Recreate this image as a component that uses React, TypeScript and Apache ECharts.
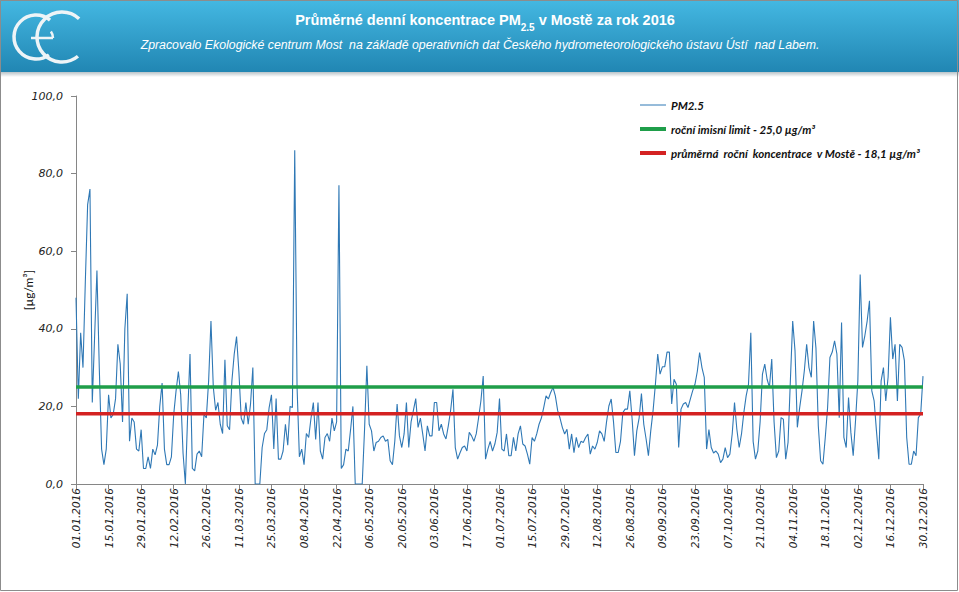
import React, { useEffect, useRef } from "react";
import * as echarts from "echarts";

// Daily PM2.5 concentrations in Most, 2016 (µg/m³), 01.01.–30.12.
const jan = [48, 22, 39, 30, 52, 72, 76, 21, 38, 55, 30, 9, 5, 9, 23, 17, 18, 22, 36, 31, 16, 40, 49, 11, 17, 16, 9, 8.5, 14, 4, 4];
const feb = [7, 4, 9, 7.5, 10, 20, 26, 9, 5, 5, 7, 18, 24, 29, 23, 8, 0, 18, 33.5, 4, 3.4, 7.7, 8.5, 7, 18, 17, 26.6, 42, 25];
const mar = [19, 21, 15.4, 13, 32, 15, 14, 26.6, 33.5, 38, 29, 17, 15.4, 21, 15.4, 20.6, 30, 0, 0, 0, 9.4, 13, 14, 19.7, 23, 9, 22, 6.4, 6.4, 8.5, 15.4];
const apr = [10, 20, 19.7, 86, 25, 7, 9, 5, 13, 12, 17, 21, 11.5, 21, 8.5, 6.4, 12, 13, 11, 17, 13.7, 16, 77, 4, 5, 9, 8.5, 14, 20, 0];
const may = [0, 0, 0, 14, 30.5, 15.4, 13.7, 8.5, 10.7, 11, 12, 12.4, 11, 11.5, 6, 5, 11, 20.6, 12.4, 9.4, 12.9, 21, 9.4, 16, 19, 22, 14.6, 17, 12.9, 8.5, 15];
const jun = [12.4, 12.4, 21, 21, 13.7, 15.4, 12.9, 11.6, 15, 19, 24.4, 9.4, 6.4, 8, 9.4, 9.8, 8.5, 13.3, 12.4, 11, 12.9, 17, 21.4, 27.8, 6.4, 9, 11, 8.5, 10.3, 13.3];
const jul = [22, 9, 8.5, 12.9, 7.3, 7.3, 12, 8.5, 12.9, 15, 10.3, 9.8, 7.7, 5.1, 12, 11, 12.9, 15.4, 17, 19.7, 22.7, 21.9, 23.6, 24.9, 22.7, 18.9, 17, 14.6, 12.9, 14.1, 9];
const aug = [12.9, 8.1, 12, 9.4, 11, 10.7, 12, 12.9, 7.7, 9.8, 9, 10.7, 13.7, 12.9, 11, 16, 20.1, 21.9, 16, 8.1, 8.1, 11, 18.4, 19.3, 19.3, 24, 16.7, 7.3, 13.7, 17, 23.3];
const sep = [15.4, 11.6, 7.3, 13.7, 18.9, 25.7, 33.5, 28.3, 30.2, 30.2, 34, 34, 20.6, 27, 25.7, 9.4, 19.3, 20.6, 21, 19.7, 21.9, 24, 25.7, 29, 33.9, 30, 27.5, 9, 14, 9.4];
const oct = [8, 8.5, 7.7, 5.5, 6.4, 9.4, 6.8, 7.7, 12.9, 21, 14.1, 9.4, 12.9, 18.4, 22.7, 25.7, 39, 11, 6.4, 8.5, 16, 28.3, 30.9, 27, 24.9, 32.2, 16, 6.8, 8.5, 17.1, 16.7];
const nov = [6.4, 10.7, 26.6, 42, 34.3, 14.6, 19.7, 24, 29.2, 36, 30, 27.5, 42, 35, 15, 6, 5.1, 12, 19.7, 32.6, 34, 36.9, 33.5, 17.1, 41.6, 12, 9.4, 22.3, 13.3, 7.3];
const dec = [16.3, 26.6, 54, 35.2, 38.2, 42, 47.2, 24, 21.4, 13.7, 6.4, 26.6, 30, 21.4, 27.5, 43, 32.2, 36, 21.4, 36, 35.2, 31.8, 12, 5.1, 5.1, 8.5, 7.3, 17.1, 18, 27.8];

const LIMIT = 25.0;
const AVERAGE = 18.1;

const SERIES_PM = "PM2.5";
const SERIES_LIMIT = "roční imisní limit - 25,0 µg/m³";
const SERIES_AVG = "průměrná  roční  koncentrace  v Mostě - 18,1 µg/m³";

const TITLE_A = "Průměrné denní koncentrace PM";
const TITLE_SUB = "2.5";
const TITLE_B = " v Mostě za rok 2016";
const SUBTITLE =
  "Zpracovalo Ekologické centrum Most  na základě operativních dat Českého hydrometeorologického ústavu Ústí  nad Labem.";

const pm25 = [...jan, ...feb, ...mar, ...apr, ...may, ...jun, ...jul, ...aug, ...sep, ...oct, ...nov, ...dec];

const START = Date.UTC(2016, 0, 1);
const pad = (n: number) => (n < 10 ? "0" + n : "" + n);
const categories = pm25.map((_, i) => {
  const d = new Date(START + i * 86400000);
  return pad(d.getUTCDate()) + "." + pad(d.getUTCMonth() + 1) + "." + d.getUTCFullYear();
});

const NARROW = "'Liberation Sans Narrow', 'Arial Narrow', 'Liberation Sans', sans-serif";
const AXISFONT = "'DejaVu Sans', Verdana, sans-serif";
const LEGFONT = "Lato, 'Open Sans', sans-serif";
const LOGO = "#eef4f7";

export default function App() {
  const ref = useRef<HTMLDivElement>(null);
  useEffect(() => {
    if (!ref.current) return;
    const chart = echarts.init(ref.current, undefined, { renderer: "svg" });
    chart.setOption({
      animation: false,
      backgroundColor: "#ffffff",
      grid: { left: 76, right: 36, top: 96, bottom: 108, containLabel: false },
      legend: {
        left: 633,
        top: 94,
        orient: "vertical",
        itemWidth: 26,
        itemHeight: 14,
        itemGap: 12,
        itemStyle: { opacity: 0 },
        textStyle: { fontFamily: LEGFONT, fontStyle: "italic", fontWeight: "bold", fontSize: 11.5, color: "#111" },
        data: [
          { name: SERIES_PM, itemStyle: { opacity: 0 }, lineStyle: { width: 1 } },
          { name: SERIES_LIMIT, itemStyle: { opacity: 0 }, lineStyle: { width: 4 } },
          { name: SERIES_AVG, itemStyle: { opacity: 0 }, lineStyle: { width: 4 } },
        ],
      },
      xAxis: {
        type: "category",
        data: categories,
        boundaryGap: false,
        axisLine: { lineStyle: { color: "#868686", width: 1 } },
        axisTick: { interval: 13, length: 5, lineStyle: { color: "#868686" } },
        axisLabel: {
          interval: 13,
          rotate: 90,
          margin: 4,
          fontFamily: AXISFONT,
          fontStyle: "italic",
          fontSize: 10.5,
          color: "#222",
        },
        splitLine: { show: false },
      },
      yAxis: {
        type: "value",
        min: 0,
        max: 100,
        interval: 20,
        name: "[µg/m³]",
        nameLocation: "middle",
        nameRotate: 90,
        nameGap: 42,
        nameMoveOverlap: false,
        nameTextStyle: { fontFamily: LEGFONT, fontSize: 12, color: "#111" },
        axisLine: { show: true, lineStyle: { color: "#868686", width: 1 } },
        axisTick: { show: true, length: 5, lineStyle: { color: "#868686" } },
        axisLabel: {
          margin: 13,
          fontFamily: AXISFONT,
          fontStyle: "italic",
          fontSize: 11,
          color: "#222",
          formatter: (v: number) => v.toFixed(1).replace(".", ","),
        },
        splitLine: { show: false },
      },
      series: [
        {
          name: SERIES_PM,
          type: "line",
          data: pm25,
          symbol: "none",
          lineStyle: { color: "#2f78b5", width: 1.1 },
          itemStyle: { color: "#2f78b5" },
          z: 2,
        },
        {
          name: SERIES_LIMIT,
          type: "line",
          data: pm25.map(() => LIMIT),
          symbol: "none",
          lineStyle: { color: "#1f9e4a", width: 3.5 },
          itemStyle: { color: "#1f9e4a" },
          z: 3,
        },
        {
          name: SERIES_AVG,
          type: "line",
          data: pm25.map(() => AVERAGE),
          symbol: "none",
          lineStyle: { color: "#d42222", width: 3.5 },
          itemStyle: { color: "#d42222" },
          z: 3,
        },
      ],
      graphic: [
        {
          type: "rect",
          shape: { x: 0, y: 0, width: 959, height: 72 },
          style: {
            fill: new echarts.graphic.LinearGradient(0, 0, 0, 1, [
              { offset: 0, color: "#44b8e2" },
              { offset: 1, color: "#2186b3" },
            ]),
          },
          z: 0,
        },
        {
          type: "rect",
          shape: { x: 0, y: 72, width: 959, height: 5 },
          style: {
            fill: new echarts.graphic.LinearGradient(0, 0, 0, 1, [
              { offset: 0, color: "#b9c3c8" },
              { offset: 1, color: "#ffffff" },
            ]),
          },
          z: 0,
        },
        {
          type: "arc",
          shape: { cx: 36, cy: 37, r: 22, startAngle: Math.PI * 0.3, endAngle: Math.PI * 1.72, clockwise: true },
          style: { stroke: LOGO, lineWidth: 3.5, fill: "none" },
          z: 1,
        },
        {
          type: "arc",
          shape: { cx: 62, cy: 37, r: 25, startAngle: Math.PI * 0.28, endAngle: Math.PI * 1.74, clockwise: true },
          style: { stroke: LOGO, lineWidth: 3.5, fill: "none" },
          z: 1,
        },
        {
          type: "arc",
          shape: { cx: 42, cy: 38, r: 11, startAngle: 0, endAngle: Math.PI * 1.8, clockwise: false },
          style: { stroke: LOGO, lineWidth: 2.5, fill: "none" },
          z: 1,
        },
        {
          type: "line",
          shape: { x1: 31, y1: 38, x2: 53, y2: 38 },
          style: { stroke: LOGO, lineWidth: 2.5 },
          z: 1,
        },
        {
          type: "text",
          x: 485,
          y: 20,
          style: {
            text: "{b|" + TITLE_A + "}{s|" + TITLE_SUB + "}{b|" + TITLE_B + "}",
            align: "center",
            verticalAlign: "middle",
            rich: {
              b: { fontSize: 14.5, fontWeight: "bold", fontFamily: NARROW, fill: "#ffffff", lineHeight: 24 },
              s: { fontSize: 10, fontWeight: "bold", fontFamily: NARROW, fill: "#ffffff", lineHeight: 12, verticalAlign: "bottom" },
            },
          },
          z: 2,
        },
        {
          type: "text",
          x: 480,
          y: 45,
          style: {
            text: SUBTITLE,
            font: "italic normal 12.3px " + NARROW,
            fill: "#ffffff",
            align: "center",
            verticalAlign: "middle",
          },
          z: 2,
        },
        {
          type: "rect",
          shape: { x: 0.5, y: 0.5, width: 957, height: 590 },
          style: { fill: "none", stroke: "#8c8c8c", lineWidth: 1 },
          z: 5,
        },
      ],
    });
    return () => chart.dispose();
  }, []);
  return (
    <div
      ref={ref}
      style={{ position: "fixed", left: 0, top: 0, width: 959, height: 592, background: "#fff" }}
    />
  );
}
